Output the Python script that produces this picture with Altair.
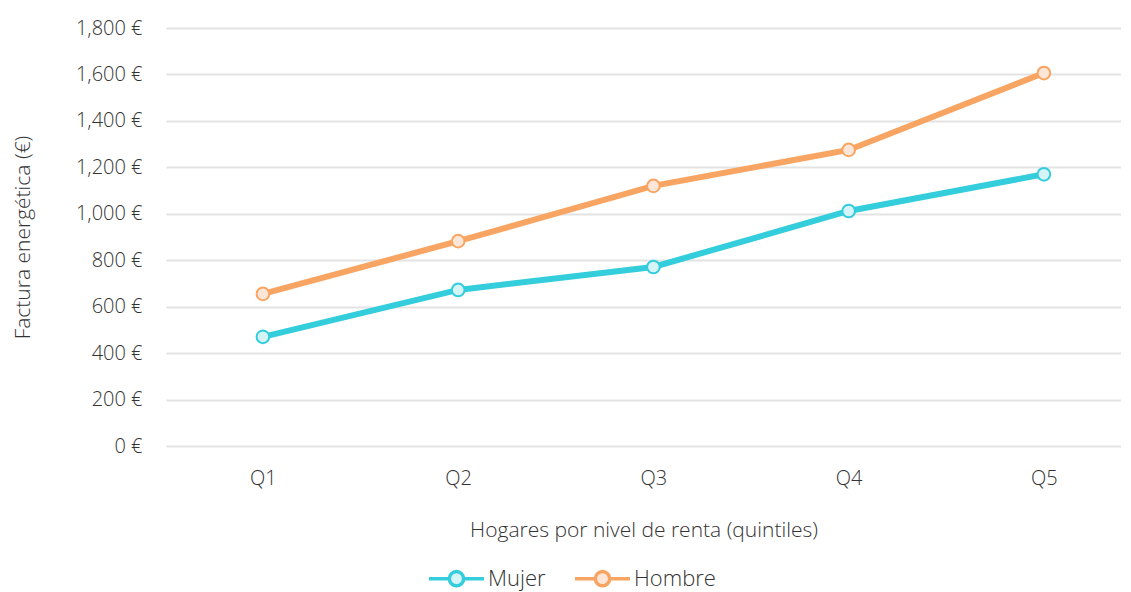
import altair as alt
import pandas as pd

quintiles = ["Q1", "Q2", "Q3", "Q4", "Q5"]
mujer = [470, 672, 771, 1012, 1170]
hombre = [655, 882, 1120, 1275, 1606]
series = ["Mujer", "Hombre"]
line_colors = ["#33CDDC", "#F8A563"]
fill_colors = ["#D5F4F7", "#FDE6D8"]

rows = []
for q, v in zip(quintiles, mujer):
    rows.append({"Quintil": q, "Serie": "Mujer", "Valor": v})
for q, v in zip(quintiles, hombre):
    rows.append({"Quintil": q, "Serie": "Hombre", "Valor": v})
df = pd.DataFrame(rows)

FONT = "Open Sans"
TXT = "#333333"

legend_path = ("M-1,0L-0.26,0M0.26,0L1,0"
               "M0.26,0A0.26,0.26 0 1,1 -0.26,0A0.26,0.26 0 1,1 0.26,0Z")

leg = alt.Legend(
    title=None, orient="none", direction="horizontal", legendX=261, legendY=521,
    symbolType=legend_path, symbolSize=3025, symbolStrokeWidth=3.5,
    labelFont=FONT, labelFontSize=22, labelColor=TXT, labelOffset=2,
    labelFontWeight=300, columnPadding=22,
)

x = alt.X("Quintil:N", sort=quintiles,
          scale=alt.Scale(type="point", padding=0.4456, align=0.557),
          axis=alt.Axis(title="Hogares por nivel de renta (quintiles)", labelAngle=0,
                        ticks=False, domain=False, labelPadding=22, titlePadding=31))
y = alt.Y("Valor:Q",
          scale=alt.Scale(domain=[0, 1800]),
          axis=alt.Axis(title="Factura energética (€)", values=list(range(0, 1801, 200)),
                        labelExpr="format(datum.value, ',') + ' €'",
                        ticks=False, domain=False, labelPadding=24, titlePadding=42))
stroke = alt.Stroke("Serie:N", sort=series,
                    scale=alt.Scale(domain=series, range=line_colors), legend=leg)
fill = alt.Fill("Serie:N", sort=series,
                scale=alt.Scale(domain=series, range=fill_colors), legend=leg)

lines = alt.Chart(df).mark_line(strokeWidth=6).encode(x=x, y=y, stroke=stroke)
points = alt.Chart(df).mark_point(filled=True, size=160, strokeWidth=2, opacity=1).encode(
    x=x, y=y, stroke=stroke, fill=fill)

chart = alt.layer(lines, points).properties(
    width=955, height=418,
    padding={"left": 4, "top": 10, "right": 0, "bottom": 0},
).configure_view(stroke=None).configure_axis(
    labelFont=FONT, labelFontSize=20, labelColor=TXT, labelFontWeight=300,
    titleFont=FONT, titleFontSize=21, titleColor=TXT, titleFontWeight=300,
    gridColor="#E3E3E3", gridWidth=2,
).configure_axisX(grid=False)

chart.save("out.html", embed_options={"renderer": "svg", "actions": False})
